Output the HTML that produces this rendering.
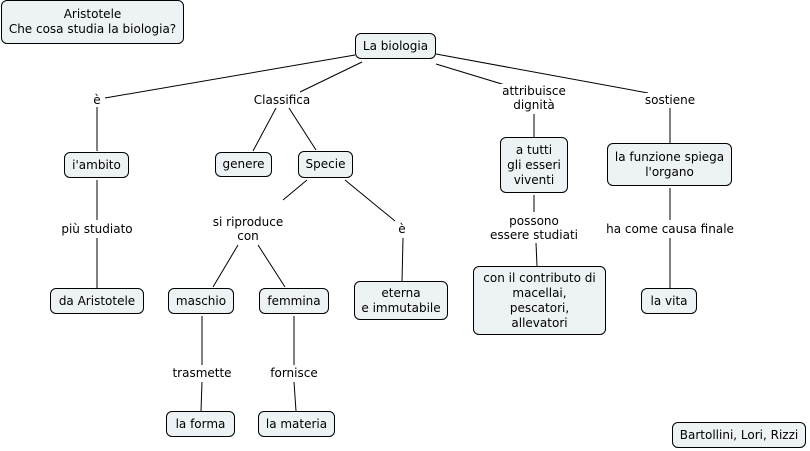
<!DOCTYPE html>
<html><head><meta charset="utf-8"><style>
body{margin:0;width:810px;height:451px;background:#fff;position:relative;overflow:hidden;font-family:"DejaVu Sans","Liberation Sans",sans-serif;font-size:12px;color:#000}
.b{position:absolute;box-sizing:border-box;border:1px solid #000;border-radius:6px;background:#edf2f4;display:flex;align-items:center;justify-content:center;text-align:center;line-height:15px;white-space:nowrap}
.l{position:absolute;transform:translate(-50%,-50%);text-align:center;line-height:14px;white-space:nowrap;background:#fff;padding:0 2px}
svg{position:absolute;left:0;top:0}
</style></head><body>
<svg width="810" height="451"><g stroke="#000" stroke-width="1" fill="none">
<line x1="355" y1="55" x2="105" y2="98"/>
<line x1="362" y1="62" x2="300" y2="92"/>
<line x1="436" y1="64" x2="515" y2="88"/>
<line x1="436" y1="54" x2="648" y2="93"/>
<line x1="97" y1="107" x2="97" y2="151"/>
<line x1="276" y1="108" x2="253" y2="151"/>
<line x1="289" y1="108" x2="316" y2="150"/>
<line x1="534" y1="114" x2="534" y2="137"/>
<line x1="670" y1="108" x2="670" y2="143"/>
<line x1="97" y1="180" x2="97" y2="220"/>
<line x1="97" y1="238" x2="97" y2="288"/>
<line x1="307" y1="180" x2="283" y2="200"/>
<line x1="345" y1="180" x2="395" y2="221"/>
<line x1="238" y1="245" x2="213" y2="287"/>
<line x1="258" y1="245" x2="285" y2="287"/>
<line x1="403" y1="238" x2="402" y2="282"/>
<line x1="534" y1="195" x2="534" y2="212"/>
<line x1="536" y1="243" x2="537" y2="266"/>
<line x1="670" y1="188" x2="670" y2="220"/>
<line x1="670" y1="238" x2="670" y2="288"/>
<line x1="202" y1="316" x2="202" y2="365"/>
<line x1="202" y1="382" x2="201" y2="411"/>
<line x1="294" y1="316" x2="294" y2="365"/>
<line x1="294" y1="382" x2="296" y2="411"/>
</g></svg>
<div class="b" style="left:1px;top:0;width:183px;height:44px">Aristotele<br>Che cosa studia la biologia?</div>
<div class="b" style="left:355px;top:33px;width:81px;height:26px">La biologia</div>
<div class="b" style="left:64px;top:152px;width:65px;height:26px">i'ambito</div>
<div class="b" style="left:215px;top:152px;width:57px;height:25px">genere</div>
<div class="b" style="left:298px;top:151px;width:55px;height:27px">Specie</div>
<div class="b" style="left:500px;top:137px;width:68px;height:56px">a tutti<br>gli esseri<br>viventi</div>
<div class="b" style="left:607px;top:143px;width:125px;height:43px">la funzione spiega<br>l'organo</div>
<div class="b" style="left:50px;top:288px;width:94px;height:26px">da Aristotele</div>
<div class="b" style="left:168px;top:288px;width:66px;height:26px">maschio</div>
<div class="b" style="left:259px;top:288px;width:70px;height:26px">femmina</div>
<div class="b" style="left:354px;top:281px;width:94px;height:39px">eterna<br>e immutabile</div>
<div class="b" style="left:473px;top:266px;width:133px;height:69px">con il contributo di<br>macellai,<br>pescatori,<br>allevatori</div>
<div class="b" style="left:641px;top:288px;width:56px;height:26px">la vita</div>
<div class="b" style="left:166px;top:411px;width:69px;height:26px">la forma</div>
<div class="b" style="left:258px;top:411px;width:77px;height:26px">la materia</div>
<div class="b" style="left:672px;top:422px;width:134px;height:26px">Bartollini, Lori, Rizzi</div>
<div class="l" style="left:97px;top:100px">è</div>
<div class="l" style="left:282px;top:100px">Classifica</div>
<div class="l" style="left:534px;top:98px">attribuisce<br>dignità</div>
<div class="l" style="left:670px;top:100px">sostiene</div>
<div class="l" style="left:97px;top:229px">più studiato</div>
<div class="l" style="left:248px;top:229px">si riproduce<br>con</div>
<div class="l" style="left:402px;top:229px">è</div>
<div class="l" style="left:534px;top:228px">possono<br>essere studiati</div>
<div class="l" style="left:670px;top:229px">ha come causa finale</div>
<div class="l" style="left:202px;top:373px">trasmette</div>
<div class="l" style="left:294px;top:373px">fornisce</div>
</body></html>
